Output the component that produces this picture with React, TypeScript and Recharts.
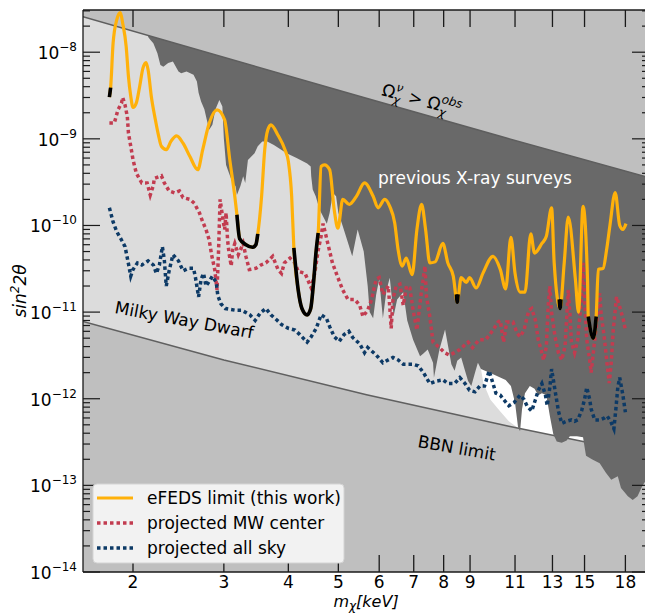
import React from "react";
import { ComposedChart, Area, Line, XAxis, YAxis } from "recharts";

type P = { x: number; y: number };
const pts = (a: number[][]): P[] => a.map(([x, y]) => ({ x, y }));

const X_MIN = 1.6;
const X_MAX = 20;
const Y_MIN = 1e-14;
const Y_MAX = 3.07e-8;

const xTicks = [2, 3, 4, 5, 6, 7, 8, 9, 11, 13, 15, 18];
const yDecades = [-14, -13, -12, -11, -10, -9, -8];
const yMinor = [2, 3, 4, 5, 6, 7, 8, 9];
const yTicks: number[] = [];
yDecades.forEach((d) => {
  yTicks.push(Math.pow(10, d));
  yMinor.forEach((m) => {
    const v = m * Math.pow(10, d);
    if (v <= Y_MAX) yTicks.push(v);
  });
});

// eFEDS limit (this work)
const efeds = pts([
  [1.8, 3.03e-9], [1.81, 3.9e-9], [1.83, 1.27e-8], [1.86, 2.36e-8], [1.89, 2.86e-8], [1.91, 2.16e-8],
  [1.94, 1.16e-8], [1.96, 5.2e-9], [1.98, 3.1e-9], [2.0, 2.3e-9], [2.03, 2.6e-9], [2.06, 4.0e-9],
  [2.09, 6.5e-9], [2.12, 7.6e-9], [2.14, 6.2e-9], [2.17, 3.1e-9], [2.21, 1.66e-9], [2.24, 1.11e-9],
  [2.27, 8.2e-10], [2.32, 7.5e-10], [2.37, 9.4e-10], [2.43, 1.08e-9], [2.5, 8.9e-10], [2.58, 6.2e-10],
  [2.67, 4.4e-10], [2.73, 7.5e-10], [2.81, 1.51e-9], [2.91, 2.16e-9], [3.01, 1.66e-9], [3.08, 5.75e-10],
  [3.15, 2.17e-10], [3.18, 1.33e-10], [3.22, 7.0e-11], [3.31, 6.0e-11], [3.41, 5.6e-11], [3.46, 6.0e-11],
  [3.49, 8.0e-11], [3.55, 2.17e-10], [3.6, 7.5e-10], [3.65, 1.27e-9], [3.7, 1.45e-9], [3.82, 1.1e-9],
  [3.94, 7.5e-10], [4.0, 5.5e-10], [4.06, 2.17e-10], [4.1, 5.5e-11], [4.18, 1.8e-11], [4.25, 1.1e-11],
  [4.35, 9.3e-12], [4.42, 1.1e-11], [4.47, 2e-11], [4.53, 5.2e-11], [4.57, 8.2e-11], [4.63, 4.8e-10],
  [4.7, 5.0e-10], [4.81, 4.4e-10], [4.91, 1.5e-10], [4.99, 9.3e-11], [5.1, 2.0e-10], [5.25, 1.75e-10],
  [5.42, 2.17e-10], [5.62, 3.1e-10], [5.84, 2.17e-10], [5.97, 1.6e-10], [6.15, 2.0e-10], [6.29, 1.66e-10],
  [6.43, 1.07e-10], [6.53, 5.2e-11], [6.65, 3.4e-11], [6.77, 4.2e-11], [6.95, 2.7e-11], [7.1, 9e-11],
  [7.25, 1.75e-10], [7.38, 9e-11], [7.52, 3.7e-11], [7.7, 3.8e-11], [7.97, 6.2e-11], [8.15, 3.7e-11],
  [8.35, 2.6e-11], [8.5, 1.3e-11], [8.65, 2.5e-11], [8.85, 2.2e-11], [8.98, 2.5e-11], [9.25, 1.9e-11],
  [9.53, 2.8e-11], [9.97, 4.4e-11], [10.3, 3.1e-11], [10.55, 1.85e-11], [10.8, 7.3e-11], [11.0, 2.8e-11],
  [11.25, 1.7e-11], [11.5, 1.7e-11], [11.8, 8e-11], [12.0, 4.8e-11], [12.4, 6.2e-11], [12.65, 7.5e-11],
  [12.95, 1.6e-10], [13.1, 3.7e-11], [13.45, 1.1e-11], [13.7, 3.7e-11], [13.95, 1.25e-10], [14.4, 2.4e-11],
  [14.6, 1.0e-11], [14.9, 1.66e-10], [15.2, 2.4e-11], [15.25, 8.9e-12], [15.6, 5e-12], [15.8, 8.9e-12],
  [15.95, 3.1e-11], [16.3, 3.2e-11], [16.55, 5.2e-11], [16.8, 1e-10], [17.2, 2.4e-10], [17.55, 1e-10],
  [17.8, 9e-11], [18.05, 1.05e-10],
]);

// parts of the eFEDS curve drawn in black
const efedsBlack = [
  pts([[1.8, 3.03e-9], [1.81, 3.9e-9]]),
  pts([[3.18, 1.33e-10], [3.22, 7.0e-11], [3.31, 6.0e-11], [3.41, 5.6e-11], [3.46, 6.0e-11], [3.49, 8.0e-11]]),
  pts([[4.1, 5.5e-11], [4.18, 1.8e-11], [4.25, 1.1e-11], [4.35, 9.3e-12], [4.42, 1.1e-11], [4.47, 2e-11], [4.53, 5.2e-11], [4.57, 8.2e-11]]),
  pts([[8.47, 1.6e-11], [8.5, 1.3e-11], [8.53, 1.6e-11]]),
  pts([[13.4, 1.4e-11], [13.45, 1.1e-11], [13.5, 1.4e-11]]),
  pts([[15.25, 8.9e-12], [15.6, 5e-12], [15.8, 8.9e-12]]),
];

// projected MW center
const mwCenter = pts([
  [1.8, 1.52e-9], [1.84, 1.52e-9], [1.87, 2.16e-9], [1.9, 2.58e-9], [1.91, 3.0e-9], [1.93, 2.47e-9],
  [1.95, 1.8e-9], [1.96, 1.16e-9], [1.98, 8.2e-10], [2.0, 5.75e-10], [2.03, 4.0e-10], [2.08, 3.1e-10],
  [2.13, 3.1e-10], [2.16, 2.25e-10], [2.19, 2.9e-10], [2.2, 3.5e-10], [2.27, 3.75e-10], [2.3, 3.1e-10],
  [2.35, 2.5e-10], [2.41, 2.37e-10], [2.46, 2.5e-10], [2.5, 2.1e-10], [2.58, 2.0e-10], [2.63, 1.8e-10],
  [2.69, 1.4e-10], [2.73, 1.1e-10], [2.77, 9e-11], [2.81, 6.8e-11], [2.84, 4.6e-11], [2.88, 3.1e-11],
  [2.91, 1.8e-11], [2.93, 5.2e-11], [2.95, 2.0e-10], [2.98, 1.3e-10], [3.01, 9e-11], [3.03, 1.4e-10],
  [3.05, 6.8e-11], [3.07, 4.8e-11], [3.1, 3.4e-11], [3.12, 5.2e-11], [3.15, 6.2e-11], [3.2, 4.6e-11],
  [3.27, 6.2e-11], [3.31, 4.4e-11], [3.36, 3.1e-11], [3.46, 3.2e-11], [3.54, 3.5e-11], [3.62, 3.7e-11],
  [3.73, 4.4e-11], [3.82, 3.1e-11], [3.88, 2.8e-11], [3.93, 3.7e-11], [4.03, 4.2e-11], [4.12, 3.7e-11],
  [4.18, 2.95e-11], [4.31, 2.8e-11], [4.43, 1.9e-11], [4.5, 2.8e-11], [4.57, 5.2e-11], [4.63, 7.5e-11],
  [4.67, 1.05e-10], [4.73, 7.7e-11], [4.77, 6.2e-11], [4.87, 3.7e-11], [4.99, 2.5e-11], [5.1, 1.8e-11],
  [5.22, 1.4e-11], [5.38, 1.4e-11], [5.5, 1.2e-11], [5.58, 8.9e-12], [5.7, 1.05e-11], [5.8, 1.4e-11],
  [5.92, 2.4e-11], [6.0, 2.5e-11], [6.1, 1.6e-11], [6.25, 2.0e-11], [6.33, 6.5e-12], [6.38, 1.4e-11],
  [6.47, 2.0e-11], [6.58, 2.1e-11], [6.68, 1.2e-11], [6.78, 2.0e-11], [6.88, 1.9e-11], [6.98, 1.05e-11],
  [7.1, 6.2e-12], [7.15, 8.9e-12], [7.25, 1.8e-11], [7.36, 3.4e-11], [7.41, 1.5e-11], [7.52, 8.9e-12],
  [7.63, 4.5e-12], [7.85, 3.9e-12], [8.03, 3.4e-12], [8.2, 3.2e-12], [8.4, 3.4e-12], [8.6, 3.7e-12],
  [8.8, 4.2e-12], [8.92, 4.5e-12], [9.1, 3.9e-12], [9.37, 4.8e-12], [9.65, 4.8e-12], [9.97, 6.2e-12],
  [10.2, 7.7e-12], [10.3, 8e-12], [10.45, 4.5e-12], [10.6, 7.7e-12], [10.9, 7.7e-12], [11.1, 5.7e-12],
  [11.25, 5.2e-12], [11.45, 6.2e-12], [11.7, 1.05e-11], [11.85, 1.1e-11], [12.05, 8e-12], [12.2, 4.8e-12],
  [12.4, 3.4e-12], [12.5, 2.8e-12], [12.65, 4e-12], [12.75, 1.15e-11], [12.85, 2e-11], [12.95, 9.8e-12],
  [13.15, 5.2e-12], [13.35, 3.4e-12], [13.55, 2.8e-12], [13.75, 4e-12], [13.95, 1.8e-11], [14.05, 9.8e-12],
  [14.15, 4.5e-12], [14.35, 3.4e-12], [14.55, 4.8e-12], [14.8, 1.5e-11], [14.9, 3.7e-11], [15.0, 1.5e-11],
  [15.15, 4.8e-12], [15.35, 2.8e-12], [15.45, 2e-12], [15.7, 4.8e-12], [15.8, 6.8e-12], [16.05, 1.65e-11],
  [16.15, 9.8e-12], [16.4, 4.8e-12], [16.6, 2.4e-12], [16.75, 1.52e-12], [16.9, 2.6e-12], [17.05, 6.2e-12],
  [17.3, 1.5e-11], [17.55, 1.15e-11], [17.85, 8e-12], [18.0, 6.2e-12],
]);

// projected all sky
const allSky = pts([
  [1.8, 1.6e-10], [1.83, 1.1e-10], [1.86, 8.5e-11], [1.9, 6.8e-11], [1.93, 5.7e-11], [1.95, 4.2e-11],
  [1.96, 3.6e-11], [1.98, 2.6e-11], [2.0, 3.1e-11], [2.04, 3.7e-11], [2.08, 3.5e-11], [2.14, 3.9e-11],
  [2.19, 3.5e-11], [2.22, 2.8e-11], [2.25, 3.5e-11], [2.28, 5.7e-11], [2.3, 4e-11], [2.32, 2.0e-11],
  [2.35, 3e-11], [2.39, 4.6e-11], [2.45, 3.9e-11], [2.5, 3e-11], [2.56, 3.2e-11], [2.62, 3.2e-11],
  [2.64, 2.6e-11], [2.68, 1.5e-11], [2.71, 2.4e-11], [2.74, 2.8e-11], [2.77, 2e-11], [2.8, 2.2e-11],
  [2.85, 2.6e-11], [2.9, 2.2e-11], [2.92, 1.55e-11], [2.96, 1.25e-11], [3.02, 1.1e-11], [3.16, 1.05e-11],
  [3.25, 1.05e-11], [3.37, 9.3e-12], [3.45, 8e-12], [3.53, 9.8e-12], [3.62, 1.1e-11], [3.7, 9.3e-12],
  [3.8, 8.1e-12], [3.88, 7.2e-12], [4.0, 6.5e-12], [4.12, 6.2e-12], [4.21, 5.5e-12], [4.35, 4.5e-12],
  [4.43, 5.2e-12], [4.53, 6.5e-12], [4.63, 9.3e-12], [4.74, 8.5e-12], [4.81, 6.8e-12], [4.91, 5.2e-12],
  [5.02, 4.6e-12], [5.13, 5.5e-12], [5.24, 6.0e-12], [5.33, 5.1e-12], [5.5, 4.3e-12], [5.62, 3.4e-12],
  [5.7, 3.9e-12], [5.92, 3.2e-12], [6.1, 2.6e-12], [6.38, 3e-12], [6.53, 2.8e-12], [6.68, 2.5e-12],
  [6.98, 2.5e-12], [7.14, 2.4e-12], [7.31, 2e-12], [7.52, 1.5e-12], [7.75, 1.6e-12], [7.98, 1.65e-12],
  [8.15, 1.5e-12], [8.4, 1.5e-12], [8.6, 1.75e-12], [8.8, 1.5e-12], [8.98, 1.25e-12], [9.2, 1.2e-12],
  [9.4, 1.4e-12], [9.6, 1.4e-12], [9.8, 2.1e-12], [9.97, 1.5e-12], [10.1, 1.16e-12], [10.3, 1.1e-12],
  [10.45, 9.8e-13], [10.7, 8.3e-13], [10.95, 9e-13], [11.25, 1.1e-12], [11.45, 9.8e-13], [11.6, 8.3e-13],
  [11.85, 7.2e-13], [12.05, 9.8e-13], [12.2, 1.25e-12], [12.4, 1.5e-12], [12.6, 1.1e-12], [12.7, 8.3e-13],
  [12.85, 1.35e-12], [12.95, 2.2e-12], [13.15, 1.25e-12], [13.35, 7.2e-13], [13.55, 5.2e-13], [13.85, 5.5e-13],
  [14.15, 5.7e-13], [14.35, 5.5e-13], [14.55, 5.7e-13], [14.8, 7.2e-13], [15.0, 9.8e-13], [15.15, 1.35e-12],
  [15.35, 9.8e-13], [15.45, 7.6e-13], [15.7, 5.7e-13], [16.05, 5.7e-13], [16.4, 6e-13], [16.6, 6.3e-13],
  [16.85, 5.5e-13], [17.1, 4.5e-13], [17.25, 7.6e-13], [17.4, 1.35e-12], [17.55, 1.75e-12], [17.8, 1.1e-12],
  [18.0, 7e-13],
]);

// Omega_chi^nu > Omega_chi^obs boundary
const omegaLimit = pts([[1.6, 2.57e-8], [5.6, 3.0e-9], [10.3, 1.07e-9], [20, 3.57e-10]]);
// BBN limit
const bbnLimit = pts([[1.6, 7.8e-12], [3.0, 2.8e-12], [5.67, 1.11e-12], [10.7, 4.8e-13], [14.9, 3.2e-13], [20, 2.3e-13]]);
// lower edge of previous X-ray surveys region
const xraySurveys = pts([
  [2.12, 3.07e-8], [2.14, 1.5e-8], [2.16, 1.39e-8], [2.19, 1.27e-8], [2.23, 9.7e-9], [2.26, 7.1e-9],
  [2.29, 6.8e-9], [2.34, 7.5e-9], [2.39, 7.8e-9], [2.45, 6.0e-9], [2.48, 5.7e-9], [2.54, 6.0e-9],
  [2.62, 5.5e-9], [2.66, 4.6e-9], [2.68, 3.4e-9], [2.71, 2.7e-9], [2.75, 2.2e-9], [2.78, 1.66e-9],
  [2.81, 1.27e-9], [2.85, 1.45e-9], [2.89, 2.2e-9], [2.94, 2.8e-9], [2.98, 2.36e-9], [3.0, 1.0e-9],
  [3.03, 5.0e-10], [3.07, 4.0e-10], [3.12, 3.1e-10], [3.16, 2.85e-10], [3.18, 2.25e-10], [3.23, 2.85e-10],
  [3.27, 3.7e-10], [3.3, 3.1e-10], [3.34, 5.7e-10], [3.44, 6.8e-10], [3.49, 8.2e-10], [3.56, 9.3e-10],
  [3.64, 9.3e-10], [3.75, 8.5e-10], [3.97, 6.8e-10], [4.15, 6.0e-10], [4.35, 5.2e-10], [4.42, 4.8e-10],
  [4.43, 3.7e-10], [4.46, 2.6e-10], [4.52, 2.17e-10], [4.6, 1.52e-10], [4.75, 1.05e-10], [4.81, 1.4e-10],
  [4.88, 2.37e-10], [4.95, 2.17e-10], [5.0, 1.4e-10], [5.1, 9.8e-11], [5.2, 6.8e-11], [5.32, 4.4e-11],
  [5.45, 9e-11], [5.6, 5e-11], [5.7, 2e-11], [5.75, 1e-11], [5.84, 8.5e-12], [5.92, 1.6e-11],
  [6.0, 2.4e-11], [6.1, 8.5e-12], [6.2, 1.8e-11], [6.29, 2.5e-11], [6.4, 9e-12], [6.5, 1.4e-11],
  [6.68, 1.7e-11], [6.8, 8e-12], [6.98, 4.8e-12], [7.2, 3.1e-12], [7.3, 3.3e-12], [7.45, 3.7e-12],
  [7.63, 2.6e-12], [7.66, 1.75e-12], [7.85, 3.7e-12], [8.05, 6.3e-12], [8.28, 2.5e-12], [8.4, 2.1e-12],
  [8.5, 2.75e-12], [8.65, 3.0e-12], [8.78, 2.2e-12], [8.92, 1.6e-12], [9.05, 1.4e-12], [9.2, 2.0e-12],
  [9.32, 2.6e-12], [9.45, 2.2e-12], [10.0, 1.9e-12], [10.55, 1.65e-12], [10.8, 1.4e-12], [11.0, 9e-13],
  [11.15, 4.7e-13], [11.25, 4.2e-13], [11.35, 7.6e-13], [11.5, 1.16e-12], [11.75, 1.4e-12], [12.0, 1.3e-12],
  [12.2, 1.1e-12], [12.4, 1.16e-12], [12.65, 1.1e-12], [12.85, 6.3e-13], [13.05, 3.9e-13], [13.25, 3.2e-13],
  [13.55, 3.1e-13], [13.85, 3.3e-13], [14.05, 3.7e-13], [14.5, 3.7e-13], [14.9, 3.6e-13], [15.0, 2.8e-13],
  [15.1, 2.2e-13], [15.5, 2.0e-13], [16.05, 1.8e-13], [16.5, 1.4e-13], [16.9, 1.16e-13], [17.4, 1.27e-13],
  [17.65, 9.3e-14], [18.2, 7.5e-14], [18.6, 6.8e-14], [19.0, 7.5e-14], [19.4, 9.8e-14], [20, 1.3e-13],
]);
// edge of the Milky Way dwarf region (unconstrained white gap to its right)
const dwarfEdge = pts([
  [9.45, 2.2e-12], [9.55, 1.52e-12], [9.85, 9.8e-13], [10.3, 7.1e-13], [10.7, 5.5e-13], [11.1, 4.7e-13],
  [11.5, 1e-13], [15.2, 1e-13],
]);
const plotSpan = [{ x: X_MIN }, { x: X_MAX }];

const legendItems = [
  { label: "eFEDS limit (this work)", color: "#ffb10a", dash: undefined as string | undefined },
  { label: "projected MW center", color: "#c23c50", dash: "3.5 3" },
  { label: "projected all sky", color: "#0d3a66", dash: "3.5 3" },
];

const font = "DejaVu Sans";
const ink = "#1a1a1a";
const SKY = "#bfbfbf";
const isMajor = (v: number) => Math.abs(Math.log10(v) - Math.round(Math.log10(v))) < 1e-6;

const XTickBottom = (props: any) => {
  const { x, y, payload } = props;
  return (
    <g>
      <line x1={x} x2={x} y1={y} y2={y - 17} stroke={ink} strokeWidth={1.3} />
      <text x={x} y={y + 16} textAnchor="middle" fontSize={17} fontFamily={font} fill="#000">
        {payload.value}
      </text>
    </g>
  );
};
const XTickTop = (props: any) => {
  const { x, y } = props;
  return <line x1={x} x2={x} y1={y} y2={y + 17} stroke={ink} strokeWidth={1.3} />;
};
const YTickLeft = (props: any) => {
  const { x, y, payload } = props;
  const v = payload.value;
  const major = isMajor(v);
  const e = Math.round(Math.log10(v));
  return (
    <g>
      <line x1={x} x2={x + (major ? 17 : 7)} y1={y} y2={y} stroke={ink} strokeWidth={1.2} />
      {major && (
        <text x={x - 6} y={y + 7} textAnchor="end" fontSize={17} fontFamily={font} fill="#000">
          10
          <tspan dy={-8} fontSize={12}>
            {"\u2212" + -e}
          </tspan>
        </text>
      )}
    </g>
  );
};
const YTickRight = (props: any) => {
  const { x, y, payload } = props;
  const major = isMajor(payload.value);
  return <line x1={x} x2={x - (major ? 17 : 7)} y1={y} y2={y} stroke={ink} strokeWidth={1.2} />;
};

const Overlay = () => (
  <svg
    width={660}
    height={606}
    style={{ position: "absolute", left: 0, top: 0, pointerEvents: "none" }}
    fontFamily={font}
  >
    <text x={467} y={176} textAnchor="middle" fontSize={17} fill="#fff">
      previous X-ray surveys
    </text>
    <text transform="translate(373,87) rotate(15)" fontSize={17} fill="#000">
      Ω
      <tspan fontSize={12} fontStyle="italic" dy={-8}>ν</tspan>
      <tspan fontSize={12} fontStyle="italic" dx={-7} dy={13}>χ</tspan>
      <tspan dy={-5} dx={2}>{" > Ω"}</tspan>
      <tspan fontSize={12} fontStyle="italic" dy={-8}>obs</tspan>
      <tspan fontSize={12} fontStyle="italic" dx={-21} dy={13}>χ</tspan>
    </text>
    <text transform="translate(106,305) rotate(10.5)" fontSize={17} fill="#000">
      Milky Way Dwarf
    </text>
    <text transform="translate(409,439) rotate(10)" fontSize={17} fill="#000">
      BBN limit
    </text>
    <text transform="translate(18,283) rotate(-90)" textAnchor="middle" fontSize={17} fontStyle="italic" fill="#000">
      sin<tspan dy={-7} fontSize={12}>2</tspan>
      <tspan dy={7}>2θ</tspan>
    </text>
    <text x={358} y={599} textAnchor="middle" fontSize={16} fontStyle="italic" fill="#000">
      m<tspan dy={3} fontSize={12}>χ</tspan>
      <tspan dy={-3}>[keV]</tspan>
    </text>
    <rect x={85} y={476} width={251} height={79} rx={4} fill="#f2f2f2" stroke="#d4d4d4" />
    {legendItems.map((it, i) => (
      <g key={it.label}>
        <line
          x1={89}
          x2={125}
          y1={490 + i * 25}
          y2={490 + i * 25}
          stroke={it.color}
          strokeWidth={it.dash ? 3.5 : 3.2}
          strokeDasharray={it.dash}
        />
        <text x={139} y={496 + i * 25} fontSize={17} fill="#000">
          {it.label}
        </text>
      </g>
    ))}
  </svg>
);

export default function App() {
  const ax = { xAxisId: "b", yAxisId: "l" };
  return (
    <div style={{ position: "relative", width: 645, height: 614, overflow: "hidden", background: "#fff" }}>
      <style>{"body{margin:0}"}</style>
      <div style={{ position: "absolute", left: 8, top: 8, width: 660, height: 606 }}>
        <ComposedChart width={660} height={606} margin={{ top: 0, right: 0, bottom: 0, left: 0 }}>
          <Area {...ax} data={plotSpan} dataKey={() => [Y_MIN, Y_MAX]} type="linear" fill="#dcdcdc" fillOpacity={1} stroke="none" isAnimationActive={false} />
          <Area {...ax} data={dwarfEdge} dataKey={(d: P) => [d.y, 1e-11]} type="linear" fill="#ffffff" fillOpacity={1} stroke="none" isAnimationActive={false} />
          <Area {...ax} data={bbnLimit} dataKey={(d: P) => [Y_MIN, d.y]} type="linear" fill={SKY} fillOpacity={1} stroke="none" isAnimationActive={false} />
          <Area {...ax} data={bbnLimit} dataKey="y" baseValue={Y_MIN} type="linear" fill="none" stroke="#606060" strokeWidth={1.5} isAnimationActive={false} />
          <Area {...ax} data={xraySurveys} dataKey={(d: P) => [d.y, Y_MAX]} type="linear" fill="#696969" fillOpacity={1} stroke="none" isAnimationActive={false} />
          <Area {...ax} data={omegaLimit} dataKey={(d: P) => [d.y, Y_MAX]} type="linear" fill={SKY} fillOpacity={1} stroke="none" isAnimationActive={false} />
          <Line {...ax} data={omegaLimit} dataKey="y" type="linear" stroke="#5e5e5e" strokeWidth={1.5} dot={false} activeDot={false} isAnimationActive={false} />
          <Line {...ax} data={mwCenter} dataKey="y" type="linear" stroke="#c23c50" strokeWidth={3.5} strokeDasharray="3.5 3" dot={false} activeDot={false} isAnimationActive={false} />
          <Line {...ax} data={allSky} dataKey="y" type="linear" stroke="#0d3a66" strokeWidth={3.5} strokeDasharray="3.5 3" dot={false} activeDot={false} isAnimationActive={false} />
          <Line {...ax} data={efeds} dataKey="y" type="monotone" stroke="#ffb10a" strokeWidth={3.2} dot={false} activeDot={false} isAnimationActive={false} />
          {efedsBlack.map((seg, i) => (
            <Line key={i} {...ax} data={seg} dataKey="y" type="monotone" stroke="#000" strokeWidth={3.6} dot={false} activeDot={false} isAnimationActive={false} />
          ))}
          <XAxis xAxisId="b" dataKey="x" type="number" scale="log" domain={[X_MIN, X_MAX]} allowDataOverflow ticks={xTicks} interval={0} height={42} tickSize={0} tickMargin={0} tickLine={false} axisLine={{ stroke: ink, strokeWidth: 1.3 }} tick={XTickBottom} />
          <XAxis xAxisId="t" orientation="top" dataKey="x" type="number" scale="log" domain={[X_MIN, X_MAX]} allowDataOverflow ticks={xTicks} interval={0} height={2} tickSize={0} tickMargin={0} tickLine={false} axisLine={{ stroke: ink, strokeWidth: 1.3 }} tick={XTickTop} />
          <YAxis yAxisId="l" type="number" scale="log" domain={[Y_MIN, Y_MAX]} allowDataOverflow ticks={yTicks} interval={0} width={75} tickSize={0} tickMargin={0} tickLine={false} axisLine={{ stroke: ink, strokeWidth: 1.3 }} tick={YTickLeft} />
          <YAxis yAxisId="r" orientation="right" type="number" scale="log" domain={[Y_MIN, Y_MAX]} allowDataOverflow ticks={yTicks} interval={0} width={19} tickSize={0} tickMargin={0} tickLine={false} axisLine={{ stroke: ink, strokeWidth: 1.3 }} tick={YTickRight} />
        </ComposedChart>
        <Overlay />
      </div>
    </div>
  );
}
